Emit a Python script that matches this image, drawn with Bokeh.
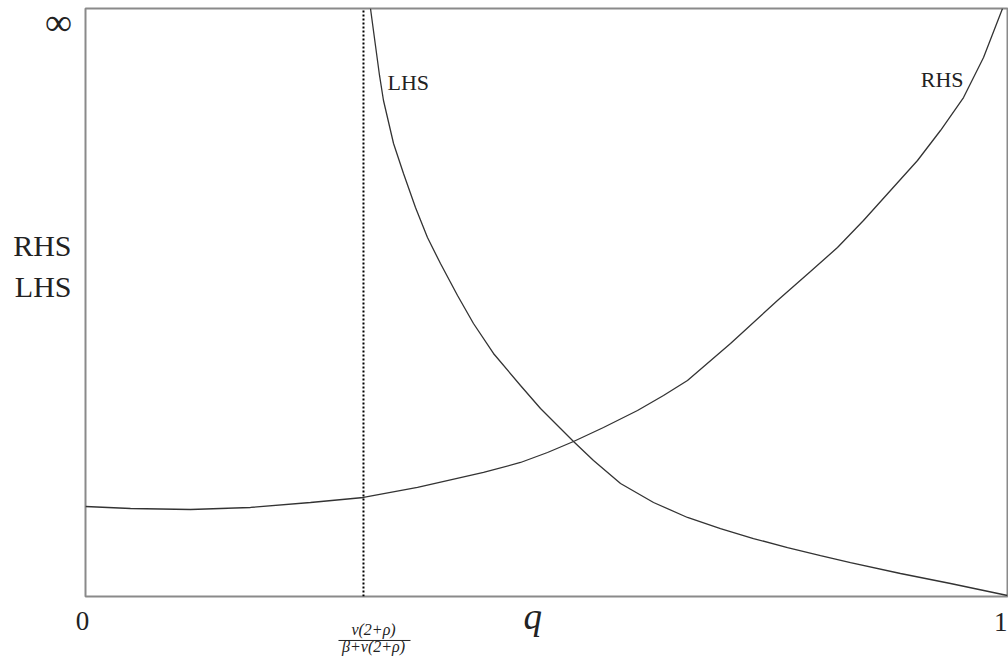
from bokeh.plotting import figure
from bokeh.models import Range1d
from bokeh.core.properties import value
from bokeh.embed import file_html
from bokeh.resources import INLINE

# ---- data ----
lhs_q = [0.3091, 0.3145, 0.3189, 0.3232, 0.3341, 0.3449, 0.3579, 0.3709, 0.3850,
         0.4035, 0.4208, 0.4425, 0.4718, 0.4935, 0.5152, 0.5293, 0.5510, 0.5803,
         0.6161, 0.6529, 0.6887, 0.7245, 0.7614, 0.7972, 0.8297, 0.8839, 0.9382,
         1.0000]
lhs_v = [1.0000, 0.9371, 0.8861, 0.8435, 0.7704, 0.7194, 0.6616, 0.6105, 0.5663,
         0.5119, 0.4643, 0.4133, 0.3588, 0.3197, 0.2857, 0.2636, 0.2313, 0.1922,
         0.1599, 0.1344, 0.1156, 0.0986, 0.0833, 0.0697, 0.0578, 0.0391, 0.0221,
         0.0017]

rhs_q = [0.0000, 0.0488, 0.1139, 0.1790, 0.2440, 0.3015, 0.3601, 0.4317, 0.4718,
         0.5011, 0.5293, 0.5618, 0.5987, 0.6269, 0.6529, 0.6996, 0.7505, 0.7863,
         0.8156, 0.8438, 0.8731, 0.9024, 0.9273, 0.9523, 0.9740, 0.9946]
rhs_v = [0.1531, 0.1497, 0.1480, 0.1514, 0.1599, 0.1684, 0.1854, 0.2109, 0.2279,
         0.2449, 0.2636, 0.2874, 0.3163, 0.3418, 0.3673, 0.4303, 0.5034, 0.5527,
         0.5935, 0.6395, 0.6905, 0.7415, 0.7925, 0.8486, 0.9167, 1.0000]

q_threshold = 0.3015
x_tick_labels = ["0", "1"]
y_labels = ["RHS", "LHS"]
top_label = "\u221e"
x_title = "q"
frac_num = "v(2+\u03c1)"
frac_den = "\u03b2+v(2+\u03c1)"

SERIF = "Liberation Serif"
INK = "#222222"

p = figure(width=1008, height=657, output_backend="svg", toolbar_location=None,
           x_range=Range1d(0, 1), y_range=Range1d(0, 1),
           x_axis_location=None, y_axis_location=None,
           min_border_left=85, min_border_right=1,
           min_border_top=8, min_border_bottom=61)
p.xgrid.visible = False
p.ygrid.visible = False
p.outline_line_color = "#8a8a8a"
p.outline_line_width = 2
p.background_fill_color = "white"
p.border_fill_color = "white"

# curves
p.line(lhs_q, lhs_v, line_color="#333333", line_width=1.3)
p.line(rhs_q, rhs_v, line_color="#333333", line_width=1.3)

# dotted vertical threshold line
p.segment(x0=[q_threshold], y0=[0], x1=[q_threshold], y1=[1],
          line_color="black", line_width=2, line_dash="2 2")

def lab(x, y, text, size, align="left", baseline="alphabetic", style="normal",
        font=SERIF):
    p.text(x=[x], y=[y], text=[text], text_font=value(font),
           text_font_size=f"{size}px", text_color=INK,
           text_align=align, text_baseline=baseline,
           text_font_style=style, level="overlay")

# infinity at top-left
lab(-0.0293, 0.9770, top_label, 38, align="center", baseline="middle")
# left stacked labels
lab(-0.0152, 0.5969, y_labels[0], 30, align="right")
lab(-0.0152, 0.5272, y_labels[1], 30, align="right")
# curve labels inside the plot
lab(0.3275, 0.8741, "LHS", 22, align="left")
lab(0.9523, 0.8793, "RHS", 22, align="right")
# x tick labels
lab(-0.0033, -0.0425, x_tick_labels[0], 27, align="center")
lab(1.0, -0.0442, x_tick_labels[1], 27, align="right")
# x title
lab(0.4751, -0.0340, x_title, 37, align="left", style="italic")
# fraction under the threshold
lab(0.3124, -0.0561, frac_num, 16, align="center", style="italic")
lab(0.3124, -0.0850, frac_den, 16, align="center", style="italic")
p.segment(x0=[0.2744], y0=[-0.0748], x1=[0.3525], y1=[-0.0748],
          line_color=INK, line_width=1, level="overlay")

open("out.html", "w").write(file_html(p, INLINE))
